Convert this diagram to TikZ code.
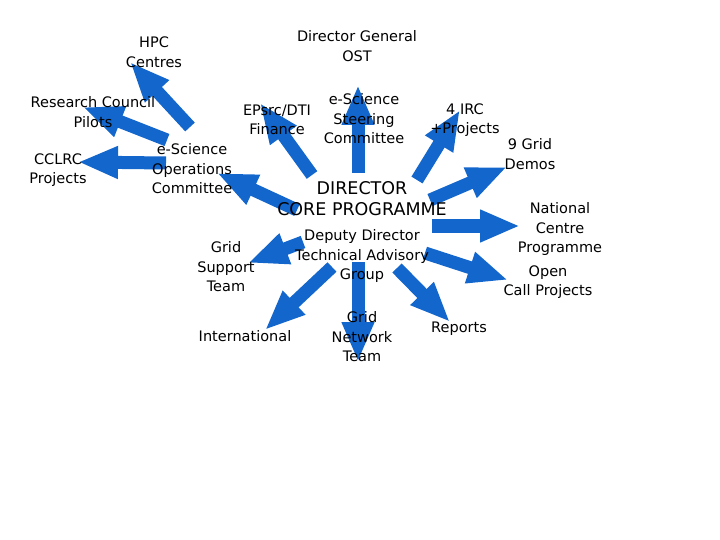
\documentclass[tikz,border=0pt]{standalone}
\usepackage{fontspec}
\setsansfont{DejaVu Sans}
\usetikzlibrary{arrows.meta,backgrounds}
\definecolor{arrowblue}{RGB}{18,102,204}

\tikzset{
  lbl/.style={align=center, inner sep=0pt, font=\sffamily\fontsize{14.5}{19.5}\selectfont},
  bigl/.style={align=center, inner sep=0pt, font=\sffamily\fontsize{17.5}{21}\selectfont},
  blockarrow/.style={arrowblue, line width=13pt, -{Triangle[width=30pt,length=40pt]}}
}

\begin{document}
\begin{tikzpicture}[x=1pt,y=-1pt]
        \useasboundingbox (0,0) rectangle (720,540);

        % labels
        \node[lbl] (dg) at (357,46) {Director General\\OST};
        \node[lbl] (hpc) at (154,52) {HPC\\Centres};
        \node[lbl] (rcp) at (93,112) {Research Council\\Pilots};
        \node[lbl] (cclrc) at (58,170) {CCLRC\\Projects};
        \node[lbl] (eops) at (192,169) {e-Science\\Operations\\Committee};
        \node[lbl] (epsrc) at (277,120) {EPsrc/DTI\\Finance};
        \node[lbl] (steer) at (364,119) {e-Science\\Steering\\Committee};
        \node[lbl] (irc) at (465,120) {4 IRC\\+Projects};
        \node[lbl] (demos) at (530,154) {9 Grid\\Demos};
        \node[bigl] (dir) at (362,199) {DIRECTOR\\CORE PROGRAMME};
        \node[lbl] (ncp) at (560,229) {National\\Centre\\Programme};
        \node[lbl] (ocp) at (548,282) {Open\\Call Projects};
        \node[lbl] (dep) at (362,256) {Deputy Director\\Technical Advisory\\Group};
        \node[lbl] (gst) at (226,267) {Grid\\Support\\Team};
        \node[lbl] (intl) at (245,336) {International};
        \node[lbl] (gnt) at (362,337) {Grid\\Network\\Team};
        \node[lbl] (rep) at (459,329) {Reports};

        % arrow ends
        \coordinate (hpc-s) at (190,127);   \coordinate (hpc-e) at (130,62);
        \coordinate (rcp-s) at (167,140);   \coordinate (rcp-e) at (83,107);
        \coordinate (cclrc-s) at (166,163); \coordinate (cclrc-e) at (78,162);
        \coordinate (eops-s) at (297,210);  \coordinate (eops-e) at (217,173);
        \coordinate (epsrc-s) at (312,175); \coordinate (epsrc-e) at (260,103);
        \coordinate (steer-s) at (358,173); \coordinate (steer-e) at (358,85);
        \coordinate (irc-s) at (417,180);   \coordinate (irc-e) at (460,110);
        \coordinate (demos-s) at (430,200); \coordinate (demos-e) at (507,167);
        \coordinate (ncp-s) at (432,226);   \coordinate (ncp-e) at (520,226);
        \coordinate (ocp-s) at (425,253);   \coordinate (ocp-e) at (508,280);
        \coordinate (rep-s) at (397,268);   \coordinate (rep-e) at (450,322);
        \coordinate (gnt-s) at (358,262);   \coordinate (gnt-e) at (358,362);
        \coordinate (intl-s) at (332,267);  \coordinate (intl-e) at (265,330);
        \coordinate (gst-s) at (303,242);   \coordinate (gst-e) at (248,263);

        \begin{scope}[on background layer]
        \foreach \n in {hpc,rcp,cclrc,eops,epsrc,steer,irc,demos,ncp,ocp,rep,gnt,intl,gst}
            \draw[blockarrow] (\n-s) -- (\n-e);
        \end{scope}
\end{tikzpicture}
\end{document}
